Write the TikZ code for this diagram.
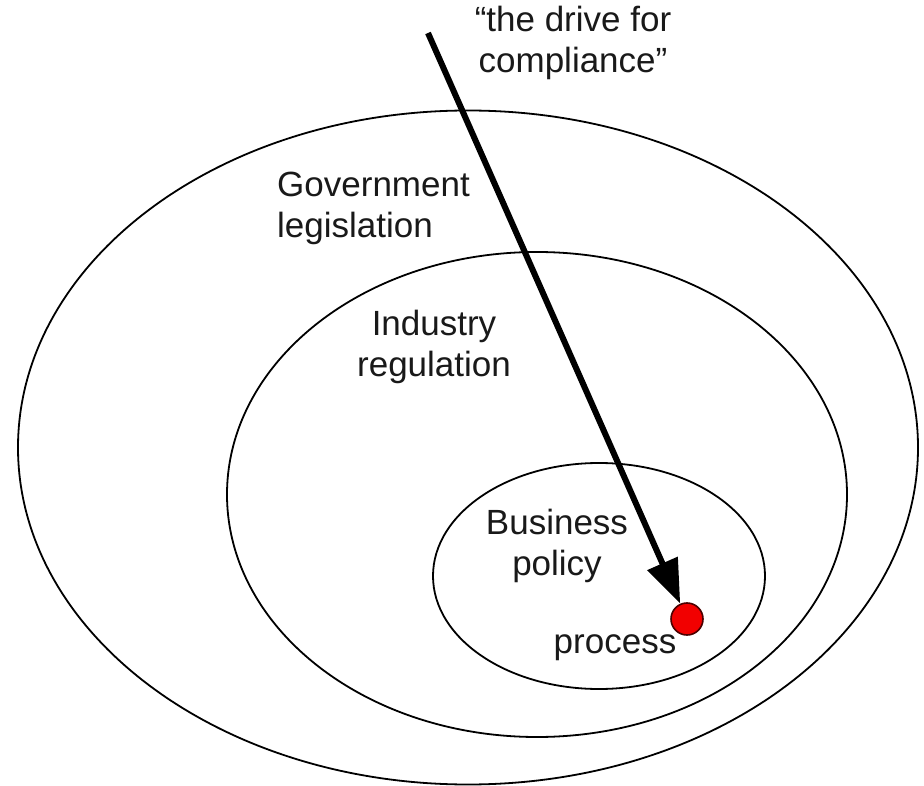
\documentclass[tikz,border=0pt]{standalone}
\usepackage{fontspec}
\setmainfont{Liberation Sans}
\usetikzlibrary{arrows.meta,shapes.geometric}
\tikzset{
  ring/.style={ellipse, draw=black, line width=1.8pt, inner sep=0pt},
  lbl/.style={font=\fontsize{35}{41}\selectfont, text=black!90, inner sep=0pt, anchor=base},
  drive/.style={line width=6pt, -{Triangle[length=44pt,width=32pt]}},
  dotst/.style={circle, fill=red!95!black, draw=red!30!black, line width=1.6pt, minimum size=32pt, inner sep=0pt}
}
\begin{document}
\begin{tikzpicture}[x=1pt,y=-1pt]
\useasboundingbox (0,0) rectangle (924,786);
\node[ring, minimum width=900pt, minimum height=674pt] (gov) at (468,447.5) {};
\node[ring, minimum width=620pt, minimum height=485pt] (ind) at (537,494.5) {};
\node[ring, minimum width=332pt, minimum height=226pt] (bus) at (599,576) {};
\node[dotst] (dot) at (687,619) {};
\coordinate (tail) at (428,33);
\draw[drive] (tail) -- (dot);
\node[lbl, align=center] (drivelbl) at (573,73) {\char"201C the drive for\\compliance\char"201D};
\node[lbl, align=left] (govlbl) at (373.5,238) {Government\\legislation};
\node[lbl, align=center] (indlbl) at (434,377) {Industry\\regulation};
\node[lbl, align=center] (buslbl) at (557,575) {Business\\policy};
\node[lbl] (proclbl) at (615,653) {process};
\end{tikzpicture}
\end{document}
